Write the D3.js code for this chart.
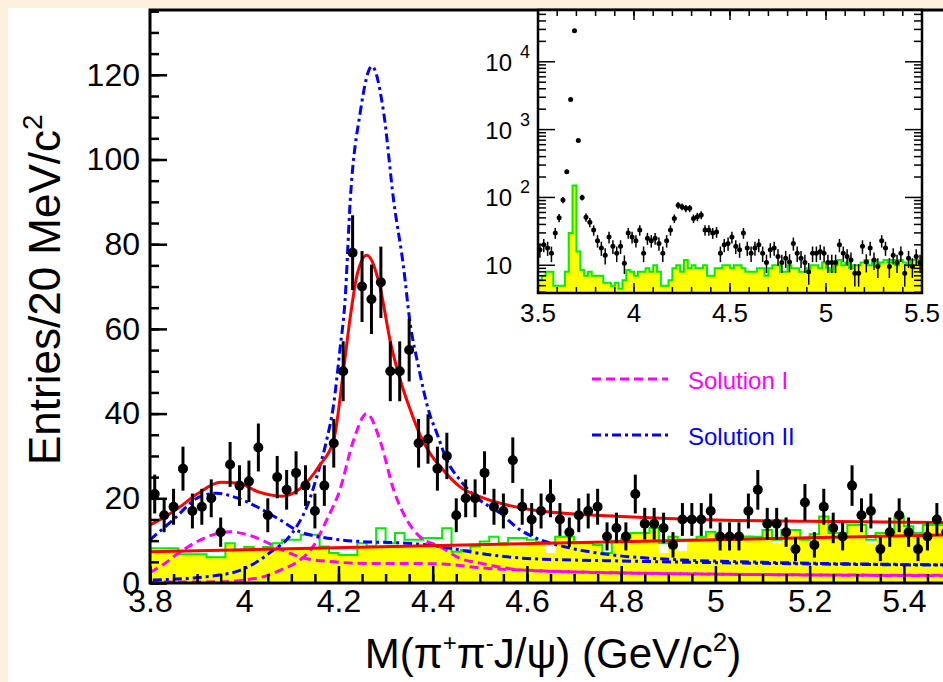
<!DOCTYPE html>
<html>
<head>
<meta charset="utf-8">
<script src="https://cdn.jsdelivr.net/npm/d3@7"></script>
<style>
  body { margin: 0; background: #fff; }
  svg { display: block; font-family: "Liberation Sans", Arial, sans-serif; }
</style>
</head>
<body>
<svg id="chart" width="943" height="682"></svg>
<script>
// ---- main plot data: 20 MeV bins from 3.80 GeV ----
const binStart = 3.8;
const binWidth = 0.02;
const counts = [
  21, 16, 18, 27, 17, 18, 20, 12, 28, 23,
  24, 32, 16, 25, 22, 26, 23, 17, 23, 33,
  50, 78, 70, 67, 71, 50, 50, 55, 33, 34,
  27, 30, 16, 20, 20, 26, 18, 17, 29, 18,
  15, 17, 20, 15, 12, 16, 17, 18, 11, 13,
  11, 21, 14, 14, 13, 9, 15, 15, 15, 17,
  11, 11, 11, 17, 22, 14, 14, 12, 8, 19,
  9, 18, 13, 11, 23, 16, 17, 8, 12, 16,
  12, 8, 11, 15, 12
];
// J/psi sideband background (yellow, filled)
const sideband = [
  8.2, 8.2, 8.2, 6.8, 6.8, 6.8, 6.1, 6.1, 9.4, 7.8,
  8.5, 8, 8.5, 8, 8.5, 8.5, 8.5, 8.5, 8.6, 7.1,
  6.6, 6.6, 8.3, 8.3, 8.3, 8.3, 8.3, 8.3, 8.3, 8.3,
  8.3, 8.3, 7.4, 7.4, 8.6, 8.6, 8.6, 9.4, 8.6, 8.6,
  9.4, 9.6, 7.1, 10.9, 10.9, 9.4, 9.4, 9, 7.1, 10,
  10.5, 11.8, 11.8, 13, 7.1, 10.9, 7.5, 10.2, 10.9, 12.1,
  10.9, 10.9, 10.9, 11, 10.9, 12.5, 9.4, 12.5, 12.5, 10.2,
  11.5, 15.7, 11.8, 11.8, 13.7, 13.7, 9.4, 11.8, 11.8, 15.7,
  13.4, 11.8, 13.7, 13.7, 13.7
];
// second background estimate (green outline, hollow)
const sidebandOutline = [
  8.2, 8.2, 8.2, 6.8, 6.8, 6.8, 6.1, 6.1, 9.4, 7.8,
  8.5, 8, 8.5, 9.4, 10.2, 10.2, 11.4, 11.4, 8.6, 7.1,
  6.6, 6.6, 9.4, 8.6, 12.9, 9.4, 11.8, 10.2, 10.2, 10.6,
  10.6, 12.9, 7.4, 7.8, 8.6, 9.8, 10.9, 9.4, 10.6, 10.6,
  10.2, 9.6, 9.4, 10.9, 10.9, 9.4, 9.4, 9, 7.1, 10,
  10.5, 11.8, 11.8, 13, 9.4, 10.9, 10.2, 10.2, 10.9, 12.1,
  10.9, 10.9, 10.9, 11, 10.9, 12.5, 10.2, 12.5, 12.5, 10.2,
  11.5, 15.7, 11.8, 11.8, 13.7, 13.7, 10.2, 11.8, 11.8, 15.7,
  13.4, 11.8, 13.7, 13.7, 13.7
];

// fitted curves, sampled from the figure (mass, entries)
const totalFitM = [3.80, 3.83, 3.86, 3.90, 3.95, 3.99, 4.03, 4.08, 4.12, 4.16, 4.19, 4.21, 4.225, 4.24, 4.26, 4.288, 4.31, 4.331, 4.352, 4.373, 4.395, 4.416, 4.458, 4.50, 4.558, 4.628, 4.70, 4.80, 5.00, 5.20, 5.50];
const totalFitV = [13.7, 15.5, 17.7, 21, 23.8, 23.5, 21.5, 20.5, 22.4, 27.8, 33.8, 49.6, 62.8, 73, 77.4, 70, 57, 48, 41, 35, 30.5, 27.5, 22.7, 20.4, 18.4, 17, 16.3, 15.7, 14.9, 14.6, 14.3];
const bkgLineM = [3.80, 5.50];
const bkgLineV = [7.4, 11.4];

const sol1LowM = [3.80, 3.83, 3.86, 3.90, 3.94, 3.97, 4.00, 4.04, 4.08, 4.13, 4.19, 4.26, 4.35, 4.42, 4.50, 4.60, 4.80, 5.00, 5.50];
const sol1LowV = [2.5, 4.5, 7, 9.8, 11.6, 12.1, 11.6, 10, 7.8, 5.8, 5, 4.6, 4.6, 4.5, 3.6, 3, 2.4, 2.1, 1.8];
const sol1HighM = [3.80, 3.95, 4.00, 4.05, 4.076, 4.118, 4.146, 4.175, 4.203, 4.23, 4.26, 4.29, 4.317, 4.345, 4.373, 4.416, 4.458, 4.50, 4.586, 4.70, 4.90, 5.20, 5.50];
const sol1HighV = [0.2, 0.3, 0.7, 1.8, 3, 5.4, 8.6, 14.9, 22, 33, 40, 33, 22, 14.9, 10.9, 8.6, 5.8, 4.7, 3.1, 2.6, 2.2, 1.9, 1.7];

const sol2LowM = [3.80, 3.849, 3.906, 3.942, 3.976, 4.027, 4.076, 4.118, 4.161, 4.203, 4.246, 4.345, 4.416, 4.50, 4.60, 4.80, 5.00, 5.50];
const sol2LowV = [10.2, 14.9, 20.4, 21.2, 20.4, 18, 14.9, 12.1, 10.9, 10.2, 9.8, 9.4, 8.6, 7, 5.8, 5.2, 4.8, 4.2];
const sol2HighM = [3.806, 3.92, 3.991, 4.027, 4.062, 4.09, 4.111, 4.133, 4.154, 4.175, 4.189, 4.203, 4.214, 4.225, 4.246, 4.271, 4.296, 4.317, 4.338, 4.352, 4.37, 4.391, 4.409, 4.43, 4.458, 4.50, 4.543, 4.586, 4.613, 4.69, 4.783, 4.90, 5.10, 5.50];
const sol2HighV = [0.7, 1.5, 3, 5, 7.8, 10.2, 13.3, 18, 25.1, 33.8, 41.6, 55, 66.8, 90.4, 111, 122, 111, 90.4, 74.7, 61.4, 51, 40.8, 35.3, 29, 24.3, 19.6, 16.5, 12.5, 10.9, 8.3, 6.6, 5.6, 4.9, 4.3];

// ---- inset data: 20 MeV bins from 3.50 GeV ----
const insetStart = 3.5;
const insetCounts = [
  17, 20, 18, 15, 30, 50, 92, 240, 2790, 28600,
  690, 100, 51, 43, 33, 23, 18, 14, 26, 19,
  15, 19, 10.7, 30, 26, 23, 33, 15, 25, 23,
  25, 21, 15, 23, 33, 49, 77, 73, 69, 69,
  49, 52, 55, 33, 33, 30, 31, 15, 20, 21,
  26, 19, 17, 30, 18, 15, 18, 20, 15, 11,
  17, 18, 13.5, 11, 12.7, 11.2, 21, 15, 12.7, 11,
  8, 15, 15, 16, 15, 11, 11, 11, 20, 15,
  13.5, 12, 7.6, 7.6, 19, 11.2, 18, 12, 9.6, 23,
  18, 9.6, 14, 11, 15, 7.6, 12.7, 9.6, 13.5, 11
];
const insetSideband = [
  6, 7, 8, 8, 5, 5, 5, 8, 30, 150,
  16, 8.5, 7, 8, 7, 7, 7, 5.5, 5.5, 5,
  5.5, 4.5, 6, 8.5, 8, 7, 8, 8, 9, 8,
  10, 8, 5, 5, 6, 9, 10, 8, 12, 9,
  10, 9, 9, 10, 7, 7, 9, 9, 10, 10,
  9, 10, 10, 9, 8, 8, 8, 9, 9, 7,
  9, 10, 10, 8, 8, 10, 9, 9, 8, 8,
  9, 10, 10, 9, 11, 9, 8, 10, 12, 10,
  11, 9, 10, 10, 11, 12, 10, 12, 10, 11,
  12, 11, 12, 10, 12, 11, 10, 12, 12, 11
];

const xTicks = [3.8, 4.0, 4.2, 4.4, 4.6, 4.8, 5.0, 5.2, 5.4];
const xTickLabels = ["3.8", "4", "4.2", "4.4", "4.6", "4.8", "5", "5.2", "5.4"];
const yTicks = [0, 20, 40, 60, 80, 100, 120];
const insetXTicks = [3.5, 4.0, 4.5, 5.0, 5.5];
const insetXLabels = ["3.5", "4", "4.5", "5", "5.5"];
const insetYTicks = [10, 100, 1000, 10000];
const insetYExp = ["", "2", "3", "4"];

const legendItems = [
  { label: "Solution I", color: "#ff00ff", dash: "9,5" },
  { label: "Solution II", color: "#0000ff", dash: "9,4,3,4" }
];

// ---- drawing ----
const W = 943, H = 682;
const svg = d3.select("#chart");

svg.append("rect").attr("width", W).attr("height", H).attr("fill", "#fdf0dc");
svg.append("rect").attr("x", 8).attr("y", 8).attr("width", W - 8).attr("height", H - 8).attr("fill", "#fff");

const x = d3.scaleLinear().domain([3.8, 5.5]).range([150, 951]);
const y = d3.scaleLinear().domain([0, 135.3]).range([583, 10]);

svg.append("clipPath").attr("id", "mainClip")
  .append("rect").attr("x", 150).attr("y", 10).attr("width", 801).attr("height", 573);

const plot = svg.append("g").attr("clip-path", "url(#mainClip)");

function stepData(values, start) {
  const pts = values.map((v, i) => ({ m: start + i * binWidth, v: v }));
  pts.push({ m: start + values.length * binWidth, v: values[values.length - 1] });
  return pts;
}

// yellow sideband histogram
plot.append("path")
  .datum(stepData(sideband, binStart))
  .attr("fill", "#ffff00")
  .attr("d", d3.area().curve(d3.curveStepAfter).x(d => x(d.m)).y0(y(0)).y1(d => y(d.v)));
// green outline histogram
plot.append("path")
  .datum(stepData(sidebandOutline, binStart))
  .attr("fill", "none")
  .attr("stroke", "#00ee00")
  .attr("stroke-width", 2)
  .attr("d", d3.line().curve(d3.curveStepAfter).x(d => x(d.m)).y(d => y(d.v)));

function drawCurve(ms, vs, color, width, dash) {
  const pts = ms.map((m, i) => [m, vs[i]]);
  plot.append("path")
    .datum(pts)
    .attr("fill", "none")
    .attr("stroke", color)
    .attr("stroke-width", width)
    .attr("stroke-dasharray", dash || null)
    .attr("d", d3.line().curve(d3.curveMonotoneX).x(d => x(d[0])).y(d => y(d[1])));
}

drawCurve(sol1LowM, sol1LowV, "#ff00ff", 3, "9,5");
drawCurve(sol1HighM, sol1HighV, "#ff00ff", 3, "9,5");
drawCurve(sol2LowM, sol2LowV, "#0000ff", 3, "9,4,3,4");
drawCurve(sol2HighM, sol2HighV, "#0000ff", 3, "9,4,3,4");
drawCurve(bkgLineM, bkgLineV, "#ff0000", 3);
drawCurve(totalFitM, totalFitV, "#ff0000", 3);

// data points with Poisson errors
const pts = plot.append("g").selectAll("g")
  .data(counts.map((c, i) => ({ m: binStart + (i + 0.5) * binWidth, v: c })))
  .enter().append("g");
pts.append("line")
  .attr("x1", d => x(d.m)).attr("x2", d => x(d.m))
  .attr("y1", d => y(Math.max(0, d.v - Math.sqrt(d.v))))
  .attr("y2", d => y(d.v + Math.sqrt(d.v)))
  .attr("stroke", "#000").attr("stroke-width", 3);
pts.append("circle")
  .attr("cx", d => x(d.m)).attr("cy", d => y(d.v)).attr("r", 5)
  .attr("fill", "#000");

// frame
svg.append("path")
  .attr("d", "M951,10H150V583H951")
  .attr("fill", "none").attr("stroke", "#000").attr("stroke-width", 3);

// y axis
svg.append("g")
  .attr("transform", "translate(150,0)")
  .call(d3.axisLeft(y).tickValues(d3.range(0, 136, 5)).tickSize(-9).tickFormat(""))
  .call(g => g.select(".domain").remove())
  .selectAll("line").attr("stroke-width", 2.5);
svg.append("g")
  .attr("transform", "translate(150,0)")
  .call(d3.axisLeft(y).tickValues(yTicks).tickSize(-17).tickPadding(10).tickFormat(d3.format("d")))
  .call(g => g.select(".domain").remove())
  .call(g => g.selectAll("line").attr("stroke-width", 2.5))
  .call(g => g.selectAll("text").attr("font-size", 32).attr("font-family", "Liberation Sans, Arial, sans-serif").attr("fill", "#000"));

// x axis
svg.append("g")
  .attr("transform", "translate(0,583)")
  .call(d3.axisBottom(x).tickValues(d3.range(3.8, 5.5, 0.05)).tickSize(-9).tickFormat(""))
  .call(g => g.select(".domain").remove())
  .selectAll("line").attr("stroke-width", 2.5);
svg.append("g")
  .attr("transform", "translate(0,583)")
  .call(d3.axisBottom(x).tickValues(xTicks).tickSize(-17).tickPadding(6).tickFormat((d, i) => xTickLabels[i]))
  .call(g => g.select(".domain").remove())
  .call(g => g.selectAll("line").attr("stroke-width", 2.5))
  .call(g => g.selectAll("text").attr("font-size", 32).attr("font-family", "Liberation Sans, Arial, sans-serif").attr("fill", "#000"));

// axis titles
const yTitle = svg.append("text")
  .attr("transform", "translate(60,465) rotate(-90)")
  .attr("font-size", 44).attr("fill", "#000");
yTitle.append("tspan").text("Entries/20 MeV/c");
yTitle.append("tspan").attr("dy", -18).attr("font-size", 28).text("2");

const xTitle = svg.append("text")
  .attr("x", 553).attr("y", 668).attr("text-anchor", "middle")
  .attr("font-size", 42).attr("fill", "#000");
xTitle.append("tspan").text("M(\u03c0");
xTitle.append("tspan").attr("dy", -17).attr("font-size", 24).text("+");
xTitle.append("tspan").attr("dy", 17).text("\u03c0");
xTitle.append("tspan").attr("dy", -17).attr("font-size", 24).text("-");
xTitle.append("tspan").attr("dy", 17).text("J/\u03c8) (GeV/c");
xTitle.append("tspan").attr("dy", -17).attr("font-size", 26).text("2");
xTitle.append("tspan").attr("dy", 17).text(")");

// legend
const legend = svg.append("g").selectAll("g")
  .data(legendItems)
  .enter().append("g")
  .attr("transform", (d, i) => `translate(592,${379 + i * 56})`);
legend.append("line")
  .attr("x1", 0).attr("x2", 76)
  .attr("stroke", d => d.color).attr("stroke-width", 3)
  .attr("stroke-dasharray", d => d.dash);
legend.append("text")
  .attr("x", 96).attr("y", 10)
  .attr("font-size", 24)
  .attr("fill", d => d.color)
  .text(d => d.label);

// ---- inset ----
const ix = d3.scaleLinear().domain([3.5, 5.5]).range([538, 922]);
const iy = d3.scaleLog().domain([3.9, 58000]).range([293, 10]);
const inset = svg.append("g");
inset.append("rect").attr("x", 538).attr("y", 10).attr("width", 384).attr("height", 283).attr("fill", "#fff");

const iPts = insetSideband.map((v, i) => ({ m: insetStart + i * binWidth, v: v }));
iPts.push({ m: 5.5, v: insetSideband[insetSideband.length - 1] });
inset.append("path")
  .datum(iPts)
  .attr("fill", "#ffff00")
  .attr("d", d3.area().curve(d3.curveStepAfter).x(d => ix(d.m)).y0(293).y1(d => iy(d.v)));
inset.append("path")
  .datum(iPts)
  .attr("fill", "none").attr("stroke", "#00ee00").attr("stroke-width", 2)
  .attr("d", d3.line().curve(d3.curveStepAfter).x(d => ix(d.m)).y(d => iy(d.v)));

const ip = inset.append("g").selectAll("g")
  .data(insetCounts.map((c, i) => ({ m: insetStart + (i + 0.5) * binWidth, v: c })))
  .enter().append("g");
ip.append("line")
  .attr("x1", d => ix(d.m)).attr("x2", d => ix(d.m))
  .attr("y1", d => iy(Math.max(3.9, d.v - Math.sqrt(d.v))))
  .attr("y2", d => iy(d.v + Math.sqrt(d.v)))
  .attr("stroke", "#000").attr("stroke-width", 1.5);
ip.append("circle")
  .attr("cx", d => ix(d.m)).attr("cy", d => iy(d.v)).attr("r", 2.5)
  .attr("fill", "#000");

// inset ticks
const minorX = d3.range(3.6, 5.5, 0.1);
const logMinor = [];
[1, 10, 100, 1000, 10000].forEach(dec => {
  for (let k = 1; k <= 9; k++) {
    const v = dec * k;
    if (v >= 3.9 && v <= 58000 && k !== 1) logMinor.push(v);
  }
});
const it = inset.append("g").attr("stroke", "#000").attr("stroke-width", 1.5);
minorX.forEach(m => {
  it.append("line").attr("x1", ix(m)).attr("x2", ix(m)).attr("y1", 293).attr("y2", 287);
  it.append("line").attr("x1", ix(m)).attr("x2", ix(m)).attr("y1", 10).attr("y2", 16);
});
insetXTicks.forEach(m => {
  it.append("line").attr("x1", ix(m)).attr("x2", ix(m)).attr("y1", 293).attr("y2", 283);
  it.append("line").attr("x1", ix(m)).attr("x2", ix(m)).attr("y1", 10).attr("y2", 20);
});
logMinor.forEach(v => {
  it.append("line").attr("x1", 538).attr("x2", 546).attr("y1", iy(v)).attr("y2", iy(v));
  it.append("line").attr("x1", 922).attr("x2", 914).attr("y1", iy(v)).attr("y2", iy(v));
});
insetYTicks.forEach(v => {
  it.append("line").attr("x1", 538).attr("x2", 555).attr("y1", iy(v)).attr("y2", iy(v));
  it.append("line").attr("x1", 922).attr("x2", 905).attr("y1", iy(v)).attr("y2", iy(v));
});
inset.append("rect").attr("x", 538).attr("y", 10).attr("width", 384).attr("height", 283)
  .attr("fill", "none").attr("stroke", "#000").attr("stroke-width", 2.5);

inset.append("g").selectAll("text")
  .data(insetXTicks)
  .enter().append("text")
  .attr("x", d => ix(d)).attr("y", 322)
  .attr("text-anchor", "middle").attr("font-size", 26)
  .text((d, i) => insetXLabels[i]);

const iyl = inset.append("g").selectAll("g")
  .data(insetYTicks)
  .enter().append("g");
iyl.append("text")
  .attr("x", 512).attr("y", d => iy(d) + 9)
  .attr("text-anchor", "end").attr("font-size", 24)
  .text("10");
iyl.append("text")
  .attr("x", 520).attr("y", d => iy(d) - 4)
  .attr("font-size", 18)
  .text((d, i) => insetYExp[i]);
</script>
</body>
</html>
